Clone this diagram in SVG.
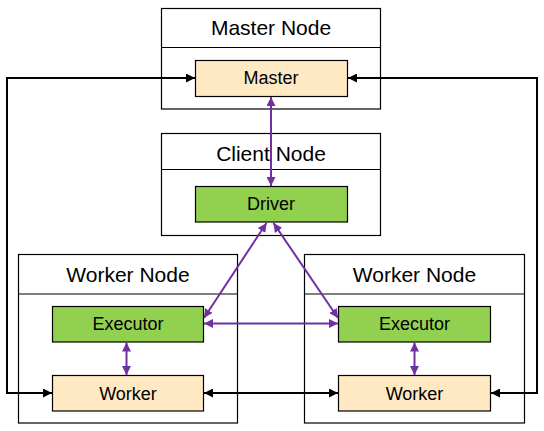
<svg xmlns="http://www.w3.org/2000/svg" width="544" height="431" viewBox="0 0 544 431">
<defs>
<style>
.frame{fill:#fff;stroke:#000;stroke-width:1.2}
.div{stroke:#000;stroke-width:1.2}
.peach{fill:#FFE9C2;stroke:#000;stroke-width:1.2}
.green{fill:#92D050;stroke:#000;stroke-width:1.2}
.hd{font-family:"Liberation Sans",Arial,sans-serif;font-size:21px;text-anchor:middle;fill:#000}
.lb{font-family:"Liberation Sans",Arial,sans-serif;font-size:18px;text-anchor:middle;fill:#000}
.blk{fill:none;stroke:#000;stroke-width:2;marker-start:url(#ab);marker-end:url(#ab)}
.pur{fill:none;stroke:#7030A0;stroke-width:2;marker-start:url(#ap);marker-end:url(#ap)}
</style>
<marker id="ab" viewBox="0 0 10 10" refX="10" refY="5" markerWidth="9" markerHeight="9" markerUnits="userSpaceOnUse" orient="auto-start-reverse"><path d="M0,0 L10,5 L0,10 Z" fill="#000"/></marker>
<marker id="ap" viewBox="0 0 10 10" refX="10" refY="5" markerWidth="9" markerHeight="9" markerUnits="userSpaceOnUse" orient="auto-start-reverse"><path d="M0,0 L10,5 L0,10 Z" fill="#7030A0"/></marker>
</defs>
<g id="master-node">
<rect class="frame" x="161.5" y="8.5" width="219" height="100.5"/>
<line class="div" x1="161.5" y1="47.5" x2="380.5" y2="47.5"/>
<text class="hd" x="271" y="35">Master Node</text>
</g>
<g id="master">
<rect class="peach" x="195.5" y="60.5" width="152" height="36"/>
<text class="lb" x="271" y="84">Master</text>
</g>
<g id="client-node">
<rect class="frame" x="161.5" y="133.5" width="219" height="102"/>
<line class="div" x1="161.5" y1="169.5" x2="380.5" y2="169.5"/>
<text class="hd" x="271" y="161">Client Node</text>
</g>
<g id="driver">
<rect class="green" x="195.5" y="186.5" width="152" height="35.5"/>
<text class="lb" x="271" y="210">Driver</text>
</g>
<g id="worker-node-left">
<rect class="frame" x="18.5" y="254.5" width="219" height="168.5"/>
<line class="div" x1="18.5" y1="294" x2="237.5" y2="294"/>
<text class="hd" x="128" y="282">Worker Node</text>
</g>
<g id="executor-left">
<rect class="green" x="52.5" y="306.5" width="151" height="35.5"/>
<text class="lb" x="128" y="330">Executor</text>
</g>
<g id="worker-left">
<rect class="peach" x="52.5" y="375.5" width="151" height="35.5"/>
<text class="lb" x="128" y="399.5">Worker</text>
</g>
<g id="worker-node-right">
<rect class="frame" x="304.5" y="254.5" width="220" height="168.5"/>
<line class="div" x1="304.5" y1="294" x2="524.5" y2="294"/>
<text class="hd" x="414.5" y="282">Worker Node</text>
</g>
<g id="executor-right">
<rect class="green" x="338.5" y="306.5" width="152" height="35.5"/>
<text class="lb" x="414.5" y="330">Executor</text>
</g>
<g id="worker-right">
<rect class="peach" x="338.5" y="375.5" width="152" height="35.5"/>
<text class="lb" x="414.5" y="399.5">Worker</text>
</g>
<g id="connectors">
<path class="blk" d="M195,78 H7 V393 H52"/>
<path class="blk" d="M348,78 H537 V393 H491"/>
<path class="blk" d="M204,393 H338"/>
<path class="pur" d="M271,97 V186"/>
<path class="pur" d="M266.5,223 L204,318"/>
<path class="pur" d="M273.5,223 L338,318"/>
<path class="pur" d="M204,323.5 H338"/>
<path class="pur" d="M126.5,342.5 V375"/>
<path class="pur" d="M414.5,342.5 V375"/>
</g>
</svg>
